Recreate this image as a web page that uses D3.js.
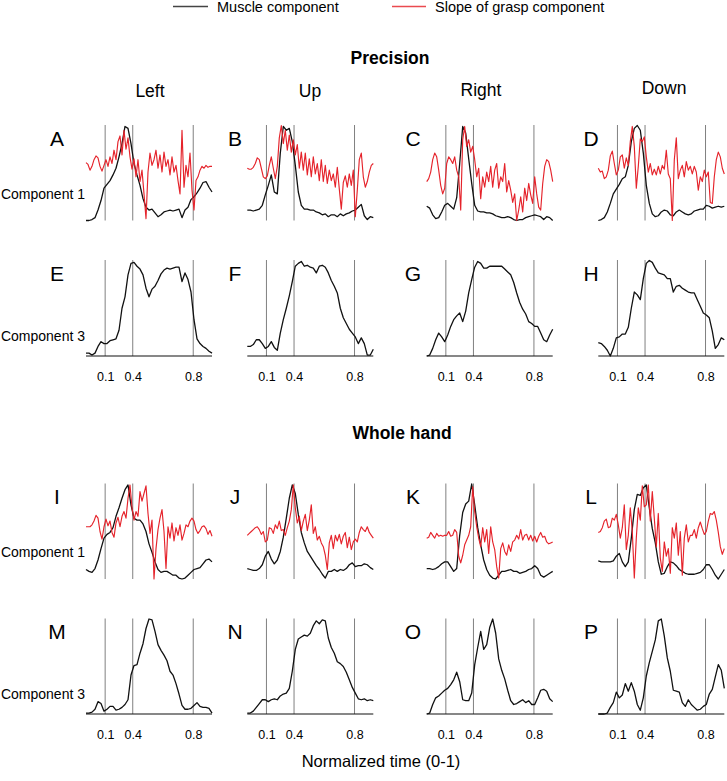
<!DOCTYPE html>
<html><head><meta charset="utf-8">
<script src="https://cdn.jsdelivr.net/npm/d3@7/dist/d3.min.js"></script>
<style>
body{margin:0;background:#fff}
svg{display:block}
text{font-family:"Liberation Sans",Arial,Helvetica,sans-serif;fill:#000}
</style>
</head><body>
<svg id="chart" width="727" height="781"></svg>
<script>
// ---------------- DATA ----------------
const groups = ["Precision", "Whole hand"];
const directions = ["Left", "Up", "Right", "Down"];
const componentLabels = ["Component 1", "Component 3"];
const panelLetters = ["A","B","C","D","E","F","G","H","I","J","K","L","M","N","O","P"];
const legendLabels = ["Muscle component", "Slope of grasp component"];
const tickValues = [0.1, 0.4, 0.8];
const tickLabels = ["0.1", "0.4", "0.8"];
const xAxisTitle = "Normalized time (0-1)";

// Precision, component 1 (muscle = black, slope = red), amplitude 0-100
const A_muscle = [0,0,1,3,11,21,34,38,42,48,55,67,81,99,97,81,60,48,37,23,14,11,12,8,4,6,9,10,11,10,11,12,3,11,14,22,25,29,34,40,41,35,30];
const A_slope  = [61,59,53,57,64,68,66,57,52,58,64,57,67,60,74,64,83,89,69,95,75,87,67,54,65,46,64,41,53,28,2,51,71,58,64,74,55,69,51,72,57,64,48,67,51,58,42,28,95,35,58,46,71,32,11,42,46,53,57,55,58,56,57,57];
const B_muscle = [11,11,10,11,12,16,27,37,48,30,28,71,99,95,97,83,58,30,16,12,12,11,11,9,8,6,7,4,6,6,4,7,5,7,8,10,11,14,17,5,1,4,3];
const B_slope  = [55,54,54,56,60,66,64,55,46,44,47,58,67,55,44,57,87,100,81,95,74,90,72,85,69,80,55,72,53,71,48,65,46,67,49,60,42,64,41,58,39,53,42,49,35,56,33,12,40,47,35,49,37,53,4,32,64,71,46,35,41,51,58,60];
const C_muscle = [15,13,6,2,3,9,16,18,15,12,24,60,99,92,65,39,16,10,9,9,8,8,7,5,4,3,3,4,3,1,0,1,1,3,4,5,6,5,4,1,4,3,0];
const C_slope  = [41,44,51,64,71,67,53,37,28,34,60,67,64,60,67,53,46,11,85,99,78,85,72,78,64,46,55,23,46,35,51,41,57,35,53,60,34,46,41,60,30,42,32,19,28,0,11,25,9,34,21,39,27,18,46,28,14,11,39,57,64,62,53,41];
const D_muscle = [0,1,3,9,18,28,33,38,44,46,58,83,97,100,95,71,37,18,7,4,5,9,11,10,6,5,9,11,9,7,6,7,10,11,12,12,16,15,13,14,15,14,15];
const D_slope  = [55,51,52,44,46,53,68,73,60,48,53,67,69,55,66,58,83,99,78,34,57,86,83,88,67,51,60,48,54,48,57,49,58,54,74,49,44,0,64,87,44,53,58,46,62,53,57,49,57,51,32,46,41,53,46,51,19,18,46,64,72,67,55,49];
// Precision, component 3
const E_muscle = [3,3,1,3,10,15,13,13,16,17,18,27,50,62,85,97,98,94,91,85,71,62,70,73,79,86,90,92,91,92,93,93,78,87,80,67,38,18,13,10,8,5,3];
const F_muscle = [10,10,12,17,17,13,8,10,15,9,6,24,38,50,63,78,94,97,99,94,95,93,92,87,94,95,93,87,79,73,66,50,40,34,28,24,20,13,19,13,1,1,7];
const G_muscle = [0,1,8,17,24,20,15,22,31,38,42,45,36,47,66,80,93,99,97,92,92,94,94,94,94,94,91,88,85,77,66,56,49,44,36,34,31,31,24,17,15,22,28];
const H_muscle = [14,13,10,6,0,8,19,20,23,23,30,50,67,64,59,81,97,100,98,92,87,86,85,81,81,67,73,74,71,69,67,66,66,59,52,45,43,40,26,8,12,19,17];
// Whole hand, component 1
const I_muscle = [10,8,7,11,20,32,43,47,49,54,66,75,85,94,99,78,64,62,62,58,50,37,28,18,10,7,8,8,6,4,4,1,0,1,4,7,10,11,12,16,20,21,18];
const I_slope  = [55,55,55,57,61,67,64,50,42,55,63,56,61,49,44,59,65,55,66,71,64,85,99,75,62,71,66,92,82,90,98,69,48,62,0,32,52,64,73,50,11,55,43,59,40,54,46,57,41,48,57,55,61,64,61,52,48,51,55,56,53,47,51,45];
const J_muscle = [11,10,9,9,11,15,24,29,21,16,20,29,44,64,85,99,90,68,49,38,29,24,19,14,10,5,1,8,8,10,8,10,9,11,15,17,13,14,14,16,15,12,10];
const J_slope  = [46,48,50,52,54,55,52,47,50,39,41,54,53,48,57,53,61,51,52,46,54,61,73,99,75,59,66,51,61,68,51,62,78,48,55,41,45,38,34,25,10,38,46,32,46,40,47,37,45,49,33,44,31,39,42,39,49,55,52,50,55,49,46,43];
const K_muscle = [11,11,10,11,13,16,18,18,13,8,11,46,70,79,82,100,78,54,36,20,10,4,1,0,4,8,8,9,10,8,8,6,7,8,10,11,14,11,4,2,4,6,8];
const K_slope  = [43,44,49,46,43,48,45,46,45,46,46,50,45,46,52,49,24,17,25,36,41,46,55,97,71,55,43,34,54,39,52,27,55,39,31,13,1,32,38,29,25,36,29,39,41,46,42,52,41,46,47,41,46,40,45,39,45,49,44,45,39,37,38,39];
const L_muscle = [19,18,18,18,18,19,24,27,18,13,18,43,73,89,88,96,99,75,53,38,18,5,6,13,18,17,14,10,8,6,5,5,5,6,7,10,15,15,10,4,0,5,10];
const L_slope  = [49,50,54,61,63,54,55,64,62,68,57,43,54,78,31,46,75,50,1,43,75,62,98,76,78,99,61,92,64,34,69,22,8,39,24,32,6,54,43,59,25,50,4,43,57,39,46,46,52,43,54,60,53,47,50,61,69,68,71,62,49,34,26,32];
// Whole hand, component 3
const M_muscle = [1,1,2,5,13,11,3,5,8,8,4,5,7,10,15,41,51,52,64,74,90,100,99,87,73,67,62,56,45,41,32,21,9,5,5,6,9,12,8,7,7,6,1];
const N_muscle = [1,1,3,7,11,15,15,13,15,16,15,19,21,22,27,45,68,79,81,83,82,85,93,98,95,99,98,80,70,64,55,53,50,44,36,28,22,16,15,16,14,15,14];
const O_muscle = [0,1,10,17,19,22,25,27,31,36,44,34,15,14,14,22,52,70,87,68,73,91,100,85,58,46,37,25,14,10,11,13,15,12,14,10,10,17,25,26,24,16,13];
const P_muscle = [0,0,0,1,7,12,23,17,20,32,24,33,24,10,4,17,40,54,66,78,98,100,82,59,45,25,24,23,12,8,15,10,7,4,5,8,10,21,26,39,52,46,27];

const muscleSeries = [A_muscle,B_muscle,C_muscle,D_muscle,E_muscle,F_muscle,G_muscle,H_muscle,
                      I_muscle,J_muscle,K_muscle,L_muscle,M_muscle,N_muscle,O_muscle,P_muscle];
const slopeSeries  = [A_slope,B_slope,C_slope,D_slope,null,null,null,null,
                      I_slope,J_slope,K_slope,L_slope,null,null,null,null];

// ---------------- LAYOUT ----------------
const BLACK = "#111";
const RED = "#e5232b";
const GRID = "#808080";
const colX = [86, 247.3, 426.7, 598.3];
const panelW = 126;
const rowTop = [125.5, 260.5, 484, 619];
const rowBottom = [220.5, 356, 579, 714];
const letterX = [57, 235, 413, 591];
const FONT = '"Liberation Sans",Arial,Helvetica,sans-serif';

const svg = d3.select("#chart");

// piecewise time scale: phase markers are not evenly spaced on the panel
const timeScale = d3.scaleLinear()
  .domain([0, 0.1, 0.4, 0.8, 1])
  .range([0, 0.152, 0.371, 0.851, 1].map(f => f * panelW));

// legend
const legend = svg.append("g");
[[173, 208, "#444", 217, 0], [392, 426, "#ea4a4f", 435, 1]].forEach(([x1, x2, col, tx, i]) => {
  legend.append("line").attr("x1", x1).attr("x2", x2).attr("y1", 6.5).attr("y2", 6.5)
    .attr("stroke", col).attr("stroke-width", 1.3);
  legend.append("text").attr("x", tx).attr("y", 12).attr("font-size", 14.5)
    .text(legendLabels[i]);
});

// group titles
[[390, 64], [402, 439]].forEach(([x, y], i) => {
  svg.append("text").attr("x", x).attr("y", y).attr("text-anchor", "middle")
    .attr("font-size", 17.5).attr("font-weight", "bold").text(groups[i]);
});

// direction headers (only above precision)
[[150, 97], [310, 97], [481, 95.5], [664, 94]].forEach(([x, y], i) => {
  svg.append("text").attr("x", x).attr("y", y).attr("text-anchor", "middle")
    .attr("font-size", 17.5).text(directions[i]);
});

// panels
for (let r = 0; r < 4; r++) {
  const isComp3 = r % 2 === 1;
  const y = d3.scaleLinear().domain([0, 100]).range([rowBottom[r], rowTop[r]]);

  // row label
  svg.append("text")
    .attr("x", 85).attr("y", isComp3 ? rowBottom[r] - 15 : rowBottom[r] - 22)
    .attr("text-anchor", "end").attr("font-size", 14)
    .text(componentLabels[isComp3 ? 1 : 0]);

  for (let c = 0; c < 4; c++) {
    const idx = r * 4 + c;
    const g = svg.append("g").attr("transform", `translate(${colX[c]},0)`);

    // panel letter
    svg.append("text").attr("x", letterX[c]).attr("y", rowTop[r] + 20)
      .attr("text-anchor", "middle").attr("font-size", 21).text(panelLetters[idx]);

    // phase marker lines
    g.selectAll("line.phase").data(tickValues).enter().append("line")
      .attr("class", "phase")
      .attr("x1", d => timeScale(d)).attr("x2", d => timeScale(d))
      .attr("y1", rowTop[r] - 0.5).attr("y2", rowBottom[r])
      .attr("stroke", GRID).attr("stroke-width", 1);

    // muscle component
    const m = muscleSeries[idx];
    const xm = d3.scaleLinear().domain([0, m.length - 1]).range([0, panelW]);
    g.append("path").datum(m)
      .attr("d", d3.line().x((d, i) => xm(i)).y(d => y(d)))
      .attr("fill", "none").attr("stroke", BLACK).attr("stroke-width", 1.3)
      .attr("stroke-linejoin", "round");

    // slope of grasp component
    const s = slopeSeries[idx];
    if (s) {
      const xs = d3.scaleLinear().domain([0, s.length - 1]).range([0, panelW]);
      g.append("path").datum(s)
        .attr("d", d3.line().x((d, i) => xs(i)).y(d => y(d)))
        .attr("fill", "none").attr("stroke", RED).attr("stroke-width", 1.15)
        .attr("stroke-linejoin", "round");
    }

    // x axis for component 3 rows
    if (isComp3) {
      const axis = d3.axisBottom(timeScale).tickValues(tickValues)
        .tickFormat((d, i) => tickLabels[i]).tickSize(0).tickPadding(0);
      const ag = g.append("g").attr("transform", `translate(0,${rowBottom[r]})`).call(axis);
      ag.select(".domain").attr("stroke", BLACK).attr("stroke-width", 1.2)
        .attr("d", `M0,0H${panelW}`);
      ag.selectAll("text").attr("font-family", FONT).attr("font-size", 12.5)
        .attr("fill", "#000").attr("dy", 0).attr("y", 25);
    }
  }
}

// x axis title
svg.append("text").attr("x", 381).attr("y", 767).attr("text-anchor", "middle")
  .attr("font-size", 16.5).text(xAxisTitle);
</script>
</body></html>
